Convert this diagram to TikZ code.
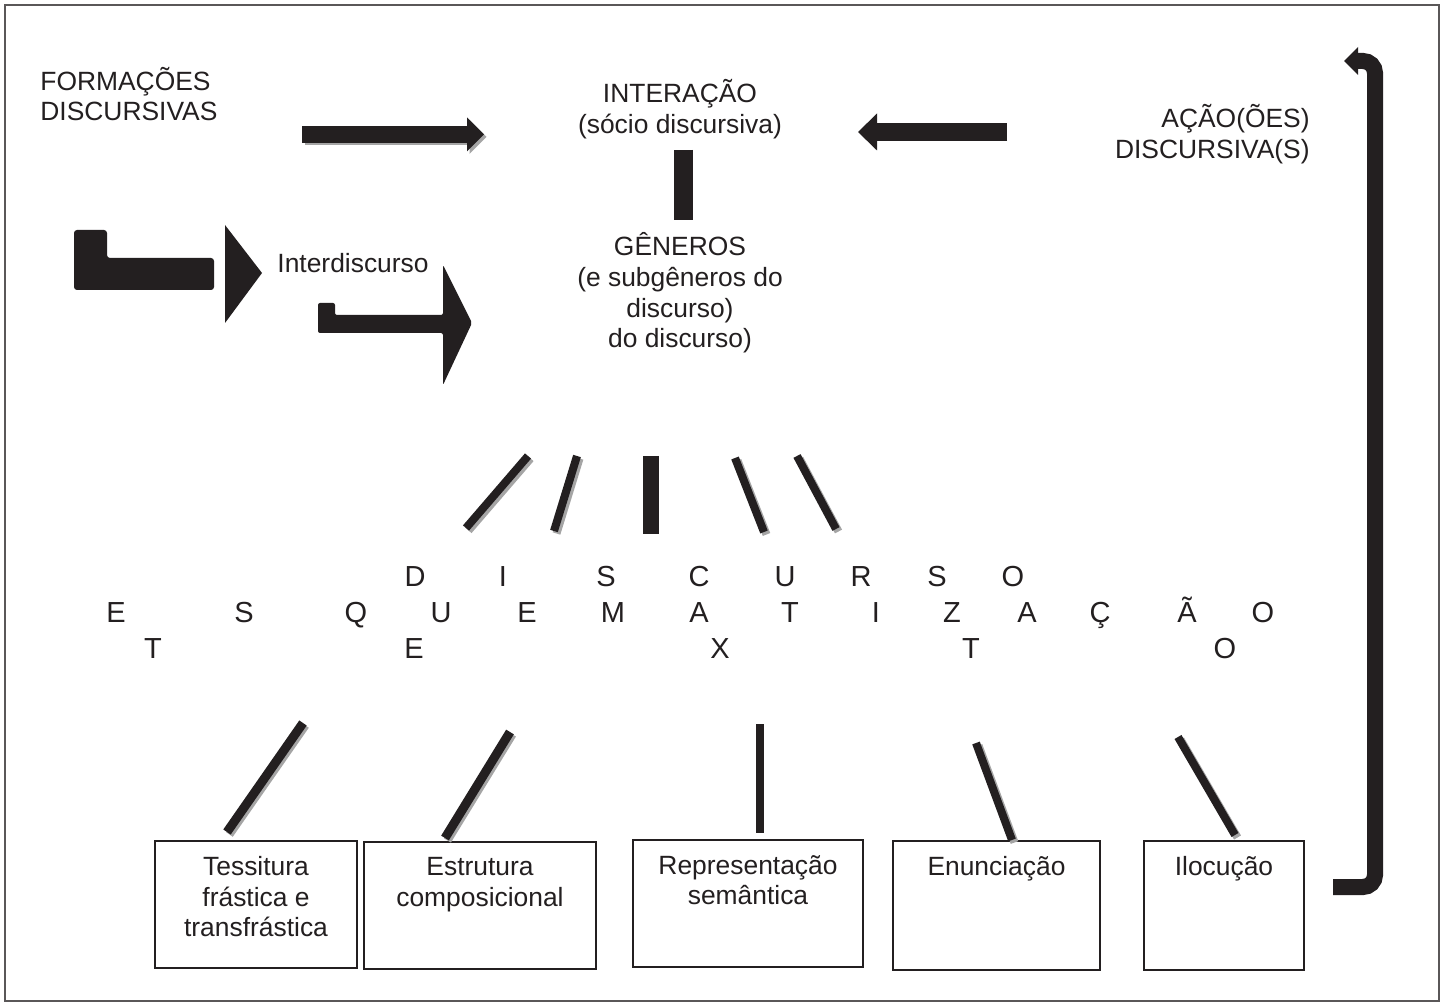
\documentclass[tikz,border=0pt]{standalone}
\usepackage{fontspec}
\setmainfont{Liberation Sans}
\usetikzlibrary{arrows.meta,positioning}
\definecolor{ink}{RGB}{35,31,32}
\definecolor{shade}{RGB}{165,165,165}

\begin{document}
\begin{tikzpicture}[x=0.5pt,y=-0.5pt,
  txt/.style={font=\fontsize{13.2}{15.3}\selectfont, text=ink, inner sep=0pt, align=center},
  letter/.style={font=\fontsize{14.5}{15}\selectfont, text=ink, inner sep=0pt, anchor=base},
  box/.style={draw=ink, line width=1pt, inner sep=0pt},
  bar/.style={draw=ink, line width=4pt},
  bar shadow/.style={draw=shade, line width=4pt},
  heavy bar/.style={draw=ink, line width=8pt},
  fat arrow/.style={draw=ink, line width=8.5pt, -{Triangle[length=8.5pt,width=17pt,line width=0pt]}},
  hook arrow/.style={draw=ink, line width=8pt, rounded corners=6pt, -{Triangle[length=7pt,width=14pt,line width=0pt]}},
]
\useasboundingbox (0,0) rectangle (1445,1004);
\fill[white] (0,0) rectangle (1445,1004);
\draw[draw=ink!75, line width=1pt] (5,5) rectangle (1439,1001);

% top labels
\node[txt, align=left, anchor=west] (formacoes) at (40,94) {FORMAÇÕES\\DISCURSIVAS};
\node[txt] (interacao) at (680,109) {INTERAÇÃO\\(sócio discursiva)};
\node[txt, align=right, anchor=east] (acao) at (1310,134) {AÇÃO(ÕES)\\DISCURSIVA(S)};
\node[txt] (generos) at (680,293) {GÊNEROS\\(e subgêneros do\\discurso)\\do discurso)};
\node[txt] (interdisc) at (353,263) {Interdiscurso};

% fat arrows
\coordinate (fa1) at (302,134.5);
\coordinate (fa2) at (484,134.5);
\coordinate (aa1) at (1007,132);
\coordinate (aa2) at (858,132);
\draw[fat arrow, draw=shade] ([shift={(2.5,2.5)}]fa1) -- ([shift={(2.5,2.5)}]fa2);
\draw[fat arrow] (fa1) -- (fa2);
\draw[fat arrow, line width=9pt, -{Triangle[length=9.5pt,width=18.5pt,line width=0pt]}] (aa1) -- (aa2);

% interacao -- generos
\coordinate (ig1) at (683.5,150);
\coordinate (ig2) at (683.5,220);
\draw[draw=ink, line width=9.5pt] (ig1) -- (ig2);

% L-shaped arrows
\fill[ink, rounded corners=1.5pt] (74,230) -- (107,230) -- (107,258) -- (214,258) -- (214,290) -- (74,290) -- cycle;
\fill[ink] (225,225) -- (262,273) -- (225,323) -- cycle;
\fill[ink, rounded corners=1pt] (318,303) -- (335,303) -- (335,315) -- (443,315) -- (443,265)
  -- (472,323) -- (443,385) -- (443,333) -- (318,333) -- cycle;

% bars from generos down to the letters
\coordinate (up1) at (528,456); \coordinate (dn1) at (466,528);
\coordinate (up2) at (577,456); \coordinate (dn2) at (554,531);
\coordinate (up3) at (650.5,456); \coordinate (dn3) at (650.5,534);
\coordinate (up4) at (735,458); \coordinate (dn4) at (764,532);
\coordinate (up5) at (797,456); \coordinate (dn5) at (836,529);
\foreach \a/\b in {up1/dn1, up2/dn2, up4/dn4, up5/dn5}
  \draw[bar shadow] ([shift={(2.5,2.5)}]\a) -- ([shift={(2.5,2.5)}]\b);
\draw[bar] (up1) -- (dn1);
\draw[bar] (up2) -- (dn2);
\draw[heavy bar] (up3) -- (dn3);
\draw[bar] (up4) -- (dn4);
\draw[bar] (up5) -- (dn5);

% letters
\foreach \ch/\x in {D/415, I/503, S/606, C/699, U/785, R/861, S/937, O/1013}
  \node[letter] (ra-\x) at (\x,587) {\ch};
\foreach \ch/\x in {E/116, S/244, Q/356, U/441, E/527, M/613, A/699, T/790, I/876, Z/952, A/1027, Ç/1100, Ã/1187, O/1263}
  \node[letter] (rb-\x) at (\x,623) {\ch};
\foreach \ch/\x in {T/153, E/414, X/720, T/971, O/1225}
  \node[letter] (rc-\x) at (\x,659) {\ch};

% boxes
\node[box, minimum width=101pt, minimum height=63.5pt] (tess) at (256,904.5) {};
\node[box, minimum width=116pt, minimum height=63.5pt] (estr) at (480,905.5) {};
\node[box, minimum width=115pt, minimum height=63.5pt] (repr) at (748,903.5) {};
\node[box, minimum width=103.5pt, minimum height=64.5pt] (enun) at (996.5,905.5) {};
\node[box, minimum width=80pt, minimum height=64.5pt] (iloc) at (1224,905.5) {};
\node[txt, below=8pt of tess.north] {Tessitura\\frástica e\\transfrástica};
\node[txt, below=8pt of estr.north] {Estrutura\\composicional};
\node[txt, below=8pt of repr.north] {Representação\\semântica};
\node[txt, below=8pt of enun.north] {Enunciação};
\node[txt, below=8pt of iloc.north] {Ilocução};

% bars from the letters down to the boxes
\coordinate (lt1) at (303,723); \coordinate (lb1) at (227,832);
\coordinate (lt2) at (510,732); \coordinate (lb2) at (445,838);
\coordinate (lt3) at (760,724); \coordinate (lb3) at (760,833);
\coordinate (lt4) at (976,743); \coordinate (lb4) at (1012,840);
\coordinate (lt5) at (1178,737); \coordinate (lb5) at (1235,835);
\foreach \a/\b in {lt1/lb1, lt2/lb2, lt4/lb4, lt5/lb5}
  \draw[bar shadow] ([shift={(2.5,2.5)}]\a) -- ([shift={(2.5,2.5)}]\b);
\draw[bar, line width=4.5pt] (lt1) -- (lb1);
\draw[bar, line width=4.5pt] (lt2) -- (lb2);
\draw[bar] (lt3) -- (lb3);
\draw[bar] (lt4) -- (lb4);
\draw[bar] (lt5) -- (lb5);

% return arrow on the right
\coordinate (rb) at (1333,887);
\coordinate (re) at (1344,61);
\draw[hook arrow] (rb) -- (1375,887) -- (1375,61) -- (re);
\end{tikzpicture}
\end{document}
